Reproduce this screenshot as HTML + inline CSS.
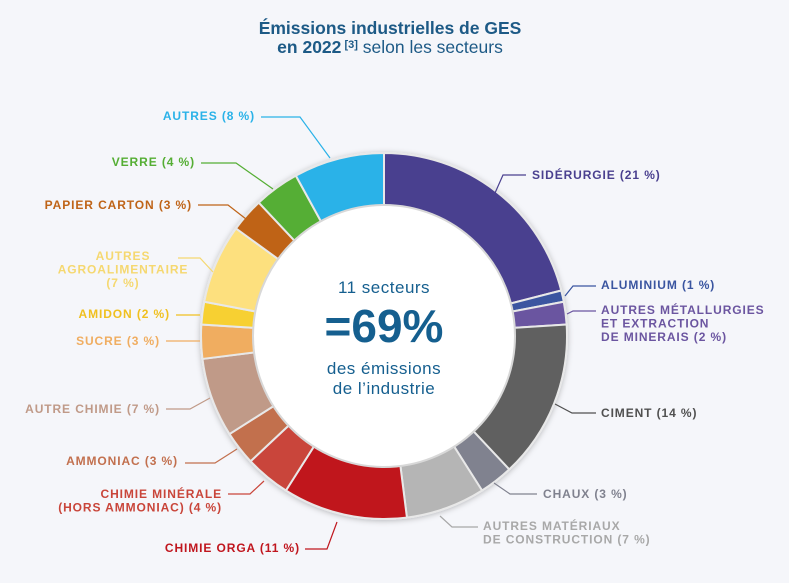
<!DOCTYPE html>
<html><head><meta charset="utf-8"><style>
body{margin:0;background:#f5f6fa;}
svg{display:block;font-family:"Liberation Sans",sans-serif;}
.l{font-size:12px;font-weight:bold;letter-spacing:0.9px;}
</style></head><body>
<svg width="789" height="583" viewBox="0 0 789 583">
<defs><filter id="sh" x="-20%" y="-20%" width="140%" height="140%"><feDropShadow dx="0" dy="1" stdDeviation="3" flood-color="#000" flood-opacity="0.25"/></filter></defs>
<g>
<text x="390" y="34" text-anchor="middle" font-size="17.5" font-weight="bold" fill="#1d5a86">Émissions industrielles de GES</text>
<text x="390" y="53" text-anchor="middle" font-size="17.5" fill="#1d5a86"><tspan font-weight="bold">en 2022</tspan><tspan font-size="11" dy="-5" font-weight="bold"> [3]</tspan><tspan dy="5"> selon les secteurs</tspan></text>
</g>
<g id="slices" filter="url(#sh)"></g>
<circle cx="384" cy="336" r="131" fill="#fff" stroke="#d8d8d8" stroke-width="2"/>
<g fill="#155f8f" text-anchor="middle">
<text x="384" y="293" font-size="17" letter-spacing="0.5">11 secteurs</text>
<text x="384" y="342" font-size="46" font-weight="bold">=69%</text>
<text x="384" y="374" font-size="17" letter-spacing="0.5">des émissions</text>
<text x="384" y="394" font-size="17" letter-spacing="0.5">de l’industrie</text>
</g>
<g id="labels" fill="none" stroke-width="1.2"></g>
</svg>
<script>
const categories=["SIDÉRURGIE","ALUMINIUM","AUTRES MÉTALLURGIES","CIMENT","CHAUX","AUTRES MATÉRIAUX","CHIMIE ORGA","CHIMIE MINÉRALE","AMMONIAC","AUTRE CHIMIE","SUCRE","AMIDON","AUTRES AGROALIMENTAIRE","PAPIER CARTON","VERRE","AUTRES"];
const values=[21,1,2,14,3,7,11,4,3,7,3,2,7,3,4,8];
const colors=["#4a408f","#3a55a0","#6b55a0","#606060","#80828f","#b5b5b5","#c0161e","#c9453a","#c2704e","#c09a88","#f0ad60","#f7d030","#fde07e","#bf6418","#55ae34","#2ab2e8"];
const cx=384,cy=336,R=183,r0=120;
const total=values.reduce((a,b)=>a+b,0);
const ns="http://www.w3.org/2000/svg";
const g=document.getElementById('slices');
function pt(a,rad){return [cx+rad*Math.sin(a),cy-rad*Math.cos(a)];}
let acc=0;
values.forEach((v,i)=>{
 const a0=acc/total*2*Math.PI;acc+=v;const a1=acc/total*2*Math.PI;
 const [x0,y0]=pt(a0,R),[x1,y1]=pt(a1,R),[x2,y2]=pt(a1,r0),[x3,y3]=pt(a0,r0);
 const lg=(a1-a0)>Math.PI?1:0;
 const p=document.createElementNS(ns,'path');
 p.setAttribute('d',`M${x0},${y0}A${R},${R} 0 ${lg} 1 ${x1},${y1}L${x2},${y2}A${r0},${r0} 0 ${lg} 0 ${x3},${y3}Z`);
 p.setAttribute('fill',colors[i]);p.setAttribute('stroke','#e8e8e8');p.setAttribute('stroke-width','2');
 
 
 g.appendChild(p);
});
const labels=[
 {t:["SIDÉRURGIE (21 %)"],x:532,y:179,a:"start",c:"#4a408f",l:"495,193 503,175 526,175"},
 {t:["ALUMINIUM (1 %)"],x:601,y:289,a:"start",c:"#3a55a0",l:"565,296 573,286 596,286"},
 {t:["AUTRES MÉTALLURGIES","ET EXTRACTION","DE MINERAIS (2 %)"],x:601,y:314,a:"start",c:"#6b55a0",l:"567,314 573,311 596,311"},
 {t:["CIMENT (14 %)"],x:601,y:417,a:"start",c:"#505050",l:"555,404 572,413 596,413"},
 {t:["CHAUX (3 %)"],x:543,y:498,a:"start",c:"#80828f",l:"494,483 510,494 537,494"},
 {t:["AUTRES MATÉRIAUX","DE CONSTRUCTION (7 %)"],x:483,y:530,a:"start",c:"#a8a8a8",l:"440,516 452,527 478,527"},
 {t:["CHIMIE ORGA (11 %)"],x:300,y:552,a:"end",c:"#c0161e",l:"337,522 327,549 305,549"},
 {t:["CHIMIE MINÉRALE","(HORS AMMONIAC) (4 %)"],x:222,y:498,a:"end",c:"#c9453a",l:"264,481 250,494 228,494"},
 {t:["AMMONIAC (3 %)"],x:178,y:465,a:"end",c:"#c2704e",l:"237,449 215,463 185,463"},
 {t:["AUTRE CHIMIE (7 %)"],x:160,y:413,a:"end",c:"#c09a88",l:"210,398 190,409 166,409"},
 {t:["SUCRE (3 %)"],x:160,y:345,a:"end",c:"#f0ad60",l:"200,341 166,341"},
 {t:["AMIDON (2 %)"],x:170,y:318,a:"end",c:"#f0c020",l:"200,315 176,315"},
 {t:["AUTRES","AGROALIMENTAIRE","(7 %)"],x:170,y:260,a:"end",c:"#f5d870",l:"213,272 200,258 178,258",mid:true},
 {t:["PAPIER CARTON (3 %)"],x:192,y:209,a:"end",c:"#bf6418",l:"246,219 228,205 198,205"},
 {t:["VERRE (4 %)"],x:195,y:166,a:"end",c:"#55ae34",l:"273,189 236,163 201,163"},
 {t:["AUTRES (8 %)"],x:255,y:120,a:"end",c:"#2ab2e8",l:"330,158 300,117 261,117"}
];
const lg=document.getElementById('labels');
labels.forEach(o=>{
 const pl=document.createElementNS(ns,'polyline');
 pl.setAttribute('points',o.l);pl.setAttribute('stroke',o.c);
 
 
 lg.appendChild(pl);
 o.t.forEach((s,k)=>{
  const tx=document.createElementNS(ns,'text');
  tx.setAttribute('x',o.mid?o.x-47:o.x);tx.setAttribute('y',o.y+k*13.5);
  tx.setAttribute('text-anchor',o.mid?'middle':o.a);tx.setAttribute('fill',o.c);tx.setAttribute('stroke','none');
  tx.setAttribute('class','l');tx.textContent=s;
  
  
  lg.appendChild(tx);
 });
});
</script>
</body></html>
